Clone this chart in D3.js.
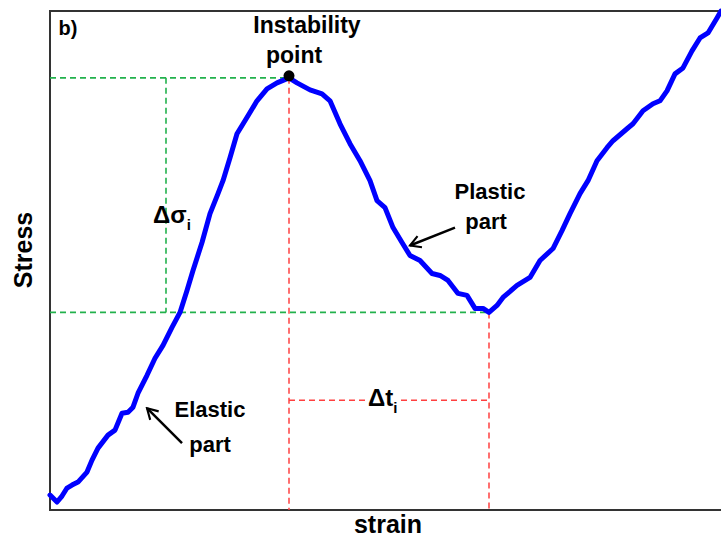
<!DOCTYPE html>
<html>
<head>
<meta charset="utf-8">
<script src="https://cdn.jsdelivr.net/npm/d3@7/dist/d3.min.js"></script>
<style>
  html, body { margin: 0; padding: 0; background: #fff; }
  svg { display: block; }
  text { font-family: "Liberation Sans", Arial, sans-serif; font-weight: bold; fill: #000; }
</style>
</head>
<body>
<svg id="chart" width="721" height="541"></svg>
<script>
// Stress–strain record (arbitrary units)
const strain = [0, 7, 12, 17, 22, 28, 37, 42, 48, 58, 65, 72, 78, 83, 88, 97, 105, 113, 122, 130,
  137, 143, 152, 160, 168, 173, 180, 187, 198, 207, 217, 227, 239, 247, 260, 272, 280, 290, 300, 310,
  320, 327, 335, 343, 352, 360, 370, 382, 390, 398, 408, 417, 425, 433, 439, 447, 453, 467, 480, 490,
  503, 512, 520, 530, 538, 547, 557, 563, 577, 583, 593, 603, 610, 617, 625, 633, 642, 650, 658, 667, 671];
const stress = [15, 8, 14, 22, 25, 28, 38, 50, 62, 75, 80, 97, 98, 103, 117, 135, 152, 165, 183, 198,
  220, 240, 268, 297, 317, 330, 353, 377, 395, 410, 422, 428, 433, 428, 421, 417, 410, 387, 367, 350,
  330, 310, 303, 283, 268, 255, 250, 237, 235, 230, 217, 215, 202, 202, 198, 205, 213, 225, 233, 250,
  262, 280, 297, 317, 330, 350, 363, 370, 382, 387, 400, 407, 410, 420, 437, 443, 460, 473, 478, 493, 500];

// Construction-line positions (same units)
const sigmaMarkerStrain = 116;   // vertical Δσ guide
const tMarkerStress = 110;       // horizontal Δt guide
const firstLoadingEnd = 400;     // the first stress maximum lies before this strain

const axisLabels = { x: "strain", y: "Stress" };
const panelLabel = "b)";

const svg = d3.select("#chart");
const margin = { left: 50, top: 11, right: 0, bottom: 31 };
const W = 721, H = 541;

const x = d3.scaleLinear().domain([0, 671]).range([margin.left, W - margin.right]);
const y = d3.scaleLinear().domain([0, 500]).range([H - margin.bottom, margin.top]);

const data = strain.map((s, i) => ({ s, v: stress[i] }));

// Instability point = first stress maximum; end of the plastic drop = following minimum
const firstPart = data.filter(d => d.s < firstLoadingEnd);
const peakIdx = d3.maxIndex(firstPart, d => d.v);
const peak = data[peakIdx];
const after = data.slice(peakIdx, data.findIndex(d => d.s >= 500));
const trough = after[d3.minIndex(after, d => d.v)];

// Frame (top, left, bottom)
const frame = svg.append("g").attr("stroke", "#333").attr("stroke-width", 2).attr("fill", "none");
frame.append("line").attr("x1", x(0) - 1).attr("x2", W).attr("y1", y(500)).attr("y2", y(500));
frame.append("line").attr("x1", x(0)).attr("x2", x(0)).attr("y1", y(500)).attr("y2", y(0) + 1);
frame.append("line").attr("x1", x(0) - 1).attr("x2", W).attr("y1", y(0)).attr("y2", y(0));

// Green construction lines (stress drop)
const green = svg.append("g").attr("stroke", "#22b14c").attr("stroke-width", 1.6)
  .attr("stroke-dasharray", "6,4").attr("fill", "none");
green.append("line").attr("x1", x(0)).attr("x2", x(peak.s)).attr("y1", y(peak.v)).attr("y2", y(peak.v));
green.append("line").attr("x1", x(0)).attr("x2", x(trough.s)).attr("y1", y(trough.v)).attr("y2", y(trough.v));
green.append("line").attr("x1", x(sigmaMarkerStrain)).attr("x2", x(sigmaMarkerStrain))
  .attr("y1", y(peak.v)).attr("y2", y(trough.v));

// Red construction lines (strain interval)
const red = svg.append("g").attr("stroke", "#ff4040").attr("stroke-width", 1.5)
  .attr("stroke-dasharray", "6,4").attr("fill", "none");
red.append("line").attr("x1", x(peak.s)).attr("x2", x(peak.s)).attr("y1", y(peak.v)).attr("y2", y(0));
red.append("line").attr("x1", x(trough.s)).attr("x2", x(trough.s)).attr("y1", y(trough.v)).attr("y2", y(0));
red.append("line").attr("x1", x(peak.s)).attr("x2", x(peak.s + 76)).attr("y1", y(tMarkerStress)).attr("y2", y(tMarkerStress));
red.append("line").attr("x1", x(peak.s + 112)).attr("x2", x(trough.s)).attr("y1", y(tMarkerStress)).attr("y2", y(tMarkerStress));

// Curve
const line = d3.line().x(d => x(d.s)).y(d => y(d.v));
svg.append("path").datum(data).attr("d", line)
  .attr("fill", "none").attr("stroke", "#0000ff").attr("stroke-width", 5)
  .attr("stroke-linejoin", "round").attr("stroke-linecap", "round");

// Instability point marker
svg.append("circle").attr("cx", x(peak.s)).attr("cy", y(peak.v) - 2).attr("r", 5.5).attr("fill", "#000");

// Arrow head marker (placed at the start of each arrow line)
svg.append("defs").append("marker").attr("id", "arr").attr("viewBox", "0 0 10 10")
  .attr("refX", 8.5).attr("refY", 5).attr("markerWidth", 6).attr("markerHeight", 6)
  .attr("orient", "auto-start-reverse").attr("markerUnits", "strokeWidth")
  .append("path").attr("d", "M1.5,1 L8.5,5 L1.5,9").attr("fill", "none")
  .attr("stroke", "#000").attr("stroke-width", 1.4).attr("stroke-linejoin", "miter");

function arrow(s1, v1, s2, v2) {
  svg.append("line").attr("x1", x(s1)).attr("y1", y(v1)).attr("x2", x(s2)).attr("y2", y(v2))
    .attr("stroke", "#000").attr("stroke-width", 2.5).attr("marker-start", "url(#arr)");
}
// tip first, tail second
arrow(97, 102, 132, 67);     // elastic
arrow(360, 265, 405, 283);   // plastic

// Text annotations
function label(txt, s, v, size, anchor) {
  return svg.append("text").attr("x", x(s)).attr("y", y(v)).attr("font-size", size)
    .attr("text-anchor", anchor || "middle").text(txt);
}
label(panelLabel, 8.5, 476, 20, "start");
label("Instability", 257, 478, 23);
label("point", 244, 448, 23);
label("Plastic", 440, 312, 22);
label("part", 436, 282, 22);
label("Elastic", 160, 93, 22);
label("part", 160, 58, 22);

const ds = svg.append("text").attr("x", x(103)).attr("y", y(288)).attr("font-size", 24);
ds.append("tspan").text("Δσ");
ds.append("tspan").attr("font-size", 15).attr("dy", 7).text("i");

const dt = svg.append("text").attr("x", x(318)).attr("y", y(104)).attr("font-size", 24);
dt.append("tspan").text("Δt");
dt.append("tspan").attr("font-size", 15).attr("dy", 7).text("i");

// Axis titles
svg.append("text").attr("x", 388).attr("y", 533).attr("font-size", 25)
  .attr("text-anchor", "middle").text(axisLabels.x);
svg.append("text").attr("transform", "translate(32,250) rotate(-90)").attr("font-size", 25)
  .attr("text-anchor", "middle").text(axisLabels.y);
</script>
</body>
</html>
